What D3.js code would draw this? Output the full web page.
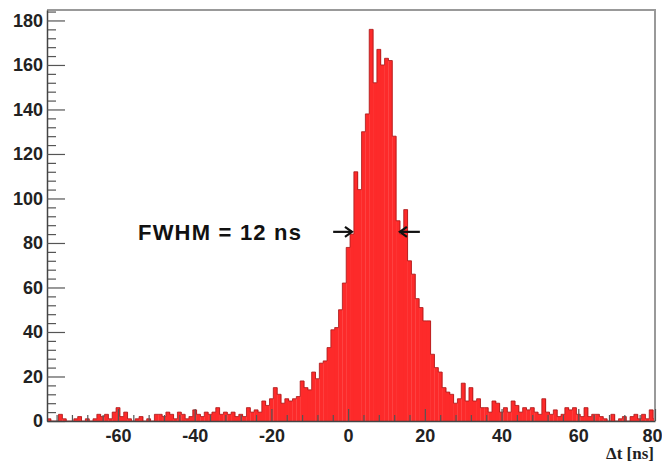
<!DOCTYPE html>
<html>
<head>
<meta charset="utf-8">
<script src="https://d3js.org/d3.v7.min.js"></script>
<style>
body { margin: 0; background: #fff; }
</style>
</head>
<body>
<div id="chart"></div>
<script>
// delta t histogram, 1 ns bins, first bin starts at -78.5 ns
var binStart = -78.5;
var binWidth = 1;
var counts = [
	1, 0, 0, 3, 1, 0, 0, 1, 2, 0,        // -78 .. -69
	1, 0, 1, 3, 2, 3, 1, 4, 6, 2,        // -68 .. -59
	4, 1, 0, 1, 2, 0, 1, 0, 3, 3,        // -58 .. -49
	2, 4, 3, 1, 4, 3, 1, 2, 5, 3,        // -48 .. -39
	2, 4, 3, 4, 6, 3, 4, 3, 4, 2,        // -38 .. -29
	3, 2, 6, 4, 5, 4, 9, 7, 10, 15,      // -28 .. -19
	12, 8, 10, 9, 10, 11, 18, 15, 14, 22, // -18 .. -9
	19, 26, 27, 33, 41, 42, 50, 62, 78, 84, // -8 .. 1
	112, 104, 130, 138, 176, 152, 167, 160, 163, 162, // 2 .. 11
	128, 90, 84, 95, 72, 66, 55, 51, 45, 45, // 12 .. 21
	30, 24, 22, 15, 13, 12, 8, 10, 17, 9, // 22 .. 31
	15, 9, 10, 6, 6, 4, 9, 8, 4, 6,      // 32 .. 41
	4, 9, 7, 4, 6, 5, 6, 4, 3, 10,       // 42 .. 51
	4, 3, 5, 2, 3, 6, 5, 6, 3, 2,        // 52 .. 61
	6, 2, 3, 3, 2, 1, 0, 3, 0, 1,        // 62 .. 71
	2, 0, 2, 3, 1, 3, 1, 5, 1            // 72 .. 80
];
var xTicks = [-60, -40, -20, 0, 20, 40, 60, 80];
var yTicks = [0, 20, 40, 60, 80, 100, 120, 140, 160, 180];
var xTitle = '\u0394t [ns]';
var fwhmLabel = 'FWHM = 12 ns';
var fwhmLevel = 85;
var fwhmLeft = [-3.9, 1.0];  // arrow tail, tip
var fwhmRight = [18.7, 13.5];

var W = 662, H = 464;
var padL = 47, padR = 655, padT = 10, padB = 421; // frame edges

var svg = d3.select('#chart').append('svg')
	.attr('width', W)
	.attr('height', H);

var x = d3.scaleLinear().domain([-78.5, 80]).range([padL, padR]);
var y = d3.scaleLinear().domain([0, 184.7]).range([padB, padT]);

svg.append('clipPath').attr('id', 'frame')
	.append('rect')
	.attr('x', padL).attr('y', padT)
	.attr('width', padR - padL).attr('height', padB - padT);

var bins = counts.map(function (c, i) {
	return { x0: binStart + i * binWidth, x1: binStart + (i + 1) * binWidth, c: c };
});

var plot = svg.append('g').attr('clip-path', 'url(#frame)');

// bars
plot.selectAll('rect.bin').data(bins)
	.enter().append('rect')
	.attr('class', 'bin')
	.attr('x', function (d) { return x(d.x0); })
	.attr('width', function (d) { return x(d.x1) - x(d.x0) + 0.3; })
	.attr('y', function (d) { return y(d.c); })
	.attr('height', function (d) { return y(0) - y(d.c); })
	.attr('fill', '#fd2a2a');

// step outline on top of bars
var steps = bins.map(function (d) { return [d.x0, d.c]; });
steps.push([bins[bins.length - 1].x1, bins[bins.length - 1].c]);
plot.append('path')
	.datum(steps)
	.attr('d', d3.line()
		.x(function (d) { return x(d[0]); })
		.y(function (d) { return y(d[1]); })
		.curve(d3.curveStepAfter))
	.attr('fill', 'none')
	.attr('stroke', '#a81818')
	.attr('stroke-width', 0.8);

// frame top and right
svg.append('line')
	.attr('x1', padL).attr('x2', padR + 1).attr('y1', padT).attr('y2', padT)
	.attr('stroke', '#999').attr('stroke-width', 2);
svg.append('line')
	.attr('x1', padR).attr('x2', padR).attr('y1', padT).attr('y2', padB)
	.attr('stroke', '#999').attr('stroke-width', 2);

var font = '"Liberation Sans", Arial, sans-serif';
var plain = function (d) { return String(d); }; // hyphen minus like the reference

// y axis, minor ticks first
var yMinor = d3.range(0, 185, 4).filter(function (v) { return v % 20 !== 0; });
svg.append('g')
	.attr('transform', 'translate(' + padL + ',0)')
	.call(d3.axisLeft(y).tickValues(yMinor).tickSize(-9).tickSizeOuter(0).tickFormat(''))
	.call(function (g) { g.select('.domain').remove(); });

svg.append('g')
	.attr('class', 'major')
	.attr('transform', 'translate(' + padL + ',0)')
	.call(d3.axisLeft(y).tickValues(yTicks).tickSize(-18).tickSizeOuter(0).tickPadding(4).tickFormat(plain));

// x axis
var xMinor = d3.range(-76, 81, 4).filter(function (v) { return v % 20 !== 0; });
svg.append('g')
	.attr('transform', 'translate(0,' + padB + ')')
	.call(d3.axisBottom(x).tickValues(xMinor).tickSize(-6).tickSizeOuter(0).tickFormat(''))
	.call(function (g) { g.select('.domain').remove(); });

var xAxis = svg.append('g')
	.attr('class', 'major')
	.attr('transform', 'translate(0,' + padB + ')')
	.call(d3.axisBottom(x).tickValues(xTicks).tickSize(-12).tickSizeOuter(0).tickPadding(8).tickFormat(plain));

svg.selectAll('.tick line').attr('stroke', '#555').attr('stroke-width', 1.2);
svg.selectAll('.domain').attr('stroke', '#444').attr('stroke-width', 1.5);
svg.selectAll('.major .tick text')
	.attr('font-family', font)
	.attr('font-weight', 'bold')
	.attr('font-size', 18)
	.attr('fill', '#222');
// last label sits against the page edge
xAxis.selectAll('.tick text').filter(function (d) { return d === 80; }).attr('dx', -3);

// axis title
svg.append('text')
	.attr('x', 654).attr('y', 459)
	.attr('text-anchor', 'end')
	.attr('font-family', '"Liberation Serif", "Times New Roman", serif')
	.attr('font-weight', 'bold')
	.attr('font-size', 17)
	.attr('fill', '#222')
	.text(xTitle);

// FWHM annotation
svg.append('text')
	.attr('x', 138).attr('y', y(fwhmLevel) + 8)
	.attr('font-family', font)
	.attr('font-weight', 'bold')
	.attr('font-size', 22)
	.attr('textLength', 163)
	.attr('lengthAdjust', 'spacing')
	.attr('fill', '#111')
	.text(fwhmLabel);

var arrow = function (ends) {
	var x0 = x(ends[0]), x1 = x(ends[1]), yy = y(fwhmLevel);
	var dir = x1 > x0 ? 1 : -1;
	var g = svg.append('g').attr('stroke', '#111').attr('stroke-width', 2.2).attr('fill', 'none');
	g.append('line').attr('x1', x0).attr('x2', x1).attr('y1', yy).attr('y2', yy);
	g.append('path')
		.attr('d', 'M' + (x1 - dir * 7) + ',' + (yy - 5) + 'L' + x1 + ',' + yy + 'L' + (x1 - dir * 7) + ',' + (yy + 5));
};
arrow(fwhmLeft);
arrow(fwhmRight);
</script>
</body>
</html>
